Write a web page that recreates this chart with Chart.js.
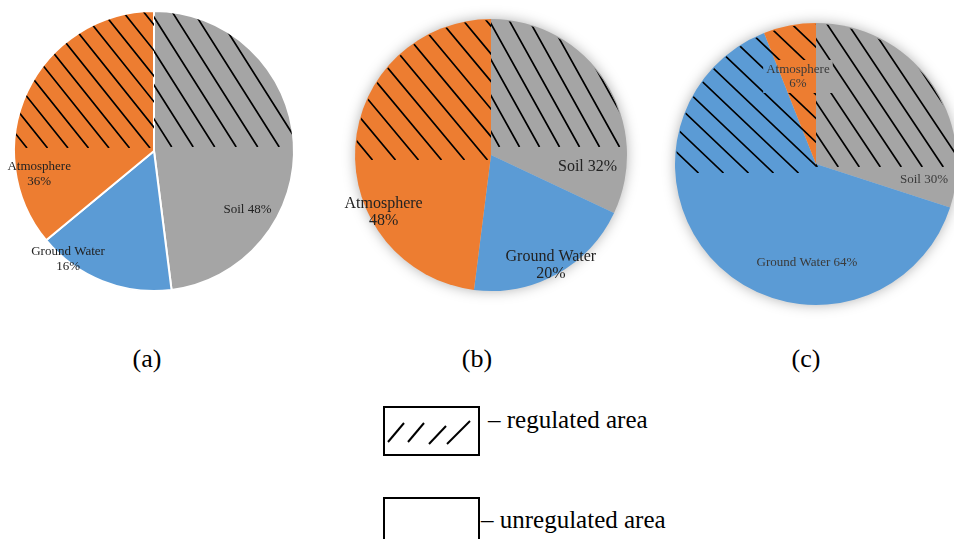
<!DOCTYPE html>
<html>
<head>
<meta charset="utf-8">
<script src="https://cdn.jsdelivr.net/npm/chart.js@4.4.0/dist/chart.umd.min.js"></script>
<style>
    html, body { margin:0; padding:0; background:#fff; }
    body { width:954px; height:539px; position:relative; overflow:hidden; font-family:"Liberation Serif","DejaVu Serif",serif; color:#000; }
    canvas { position:absolute; }
    .caption { position:absolute; font-size:26px; transform:translate(-50%,-50%); white-space:nowrap; }
    .legend-box { position:absolute; border:2px solid #000; box-sizing:border-box; }
    .legend-text { position:absolute; font-size:25px; transform:translateY(-50%); white-space:nowrap; }
</style>
</head>
<body>
<canvas id="pieA" width="312" height="312" style="left:-2px;top:-5px"></canvas>
<canvas id="pieB" width="302" height="302" style="left:340px;top:4px"></canvas>
<canvas id="pieC" width="312" height="312" style="left:660px;top:8px"></canvas>

<div class="caption" id="cap0" style="left:147px;top:359px"></div>
<div class="caption" id="cap1" style="left:477px;top:359px"></div>
<div class="caption" id="cap2" style="left:806px;top:359px"></div>

<div class="legend-box" style="left:383px;top:406px;width:97px;height:50px">
    <svg width="93" height="46" style="position:absolute;left:0;top:0">
        <g stroke="#000" stroke-width="2">
            <line x1="3" y1="34" x2="19" y2="15"/>
            <line x1="23" y1="34" x2="39" y2="15"/>
            <line x1="44" y1="36" x2="61" y2="18"/>
            <line x1="62" y1="36" x2="85" y2="13"/>
        </g>
    </svg>
</div>
<div class="legend-text" id="leg0" style="left:488px;top:420px"></div>
<div class="legend-box" style="left:383px;top:497px;width:97px;height:60px"></div>
<div class="legend-text" id="leg1" style="left:481px;top:520px"></div>

<script>
// Data
const categories = ['Soil', 'Ground Water', 'Atmosphere'];
const valuesA = [48, 16, 36];
const valuesB = [32, 20, 48];
const valuesC = [30, 64, 6];
const captions = ['(a)', '(b)', '(c)'];
const legendLabels = ['– regulated area', '– unregulated area'];

const sliceColors = ['#A5A5A5', '#5B9BD5', '#ED7D31'];

// Label placement (fraction of radius from centre) and hatch look, per pie
const pieStyles = {
    pieA: {
        borderWidth: 2, shadow: false, font: 13, lineHeight: 15, color: '#222',
        labels: [ {fx:0.668, fy:0.42, split:false}, {fx:-0.614, fy:0.77, split:true}, {fx:-0.82, fy:0.168, split:true} ],
        hatchLeft:  {slope:1.25, spacing:20.5, phase:-4,  bottom:-3},
        hatchRight: {slope:1.58, spacing:21.5, phase:-3.8, bottom:-4}
    },
    pieB: {
        borderWidth: 0, shadow: true, font: 16, lineHeight: 16.5, color: '#222',
        labels: [ {fx:0.71, fy:0.09, split:false}, {fx:0.44, fy:0.81, split:true}, {fx:-0.79, fy:0.42, split:true} ],
        hatchLeft:  {slope:1.2, spacing:23, phase:-3.5, bottom:5},
        hatchRight: {slope:1.8, spacing:20, phase:8.5, bottom:-8}
    },
    pieC: {
        borderWidth: 0, shadow: true, font: 13, lineHeight: 13.5, color: '#3a3a3a',
        labels: [ {fx:0.766, fy:0.113, split:false}, {fx:-0.064, fy:0.70, split:false}, {fx:-0.128, fy:-0.62, split:true, clear:true} ],
        hatchLeft:  {slope:0.95, spacing:25, phase:7.5, bottom:9},
        hatchRight: {slope:1.5, spacing:21, phase:1.3, bottom:3}
    }
};

// Diagonal hatch on one half of the upper pie, with holes left for labels
function drawHatch(ctx, cx, cy, r, side, h, holes) {
    const yb = cy + h.bottom;
    const top = cy - r;
    ctx.save();
    ctx.beginPath();
    ctx.arc(cx, cy, r - 1, 0, Math.PI * 2);
    ctx.clip();
    ctx.beginPath();
    if (side < 0) ctx.rect(cx - r, top, r, yb - top);
    else ctx.rect(cx, top, r, yb - top);
    ctx.clip();
    if (holes.length) {
        ctx.beginPath();
        ctx.rect(cx - r - 5, cy - r - 5, 2 * r + 10, 2 * r + 10);
        holes.forEach(b => ctx.rect(b.x, b.y, b.w, b.h));
        ctx.clip('evenodd');
    }
    ctx.strokeStyle = '#000';
    ctx.lineWidth = 1.7;
    ctx.beginPath();
    for (let k = -25; k <= 25; k++) {
        const xb = cx + h.phase + k * h.spacing;
        ctx.moveTo(xb, yb);
        ctx.lineTo(xb - (yb - top + 10) / h.slope, top - 10);
    }
    ctx.stroke();
    ctx.restore();
}

const shadowPlugin = {
    id: 'pieShadow',
    beforeDatasetsDraw(chart) {
        const st = pieStyles[chart.canvas.id];
        if (!st.shadow) return;
        const arc = chart.getDatasetMeta(0).data[0];
        const ctx = chart.ctx;
        ctx.save();
        ctx.shadowColor = 'rgba(0,0,0,0.35)';
        ctx.shadowBlur = 14;
        ctx.fillStyle = '#ccc';
        ctx.beginPath();
        ctx.arc(arc.x, arc.y, arc.outerRadius - 1, 0, Math.PI * 2);
        ctx.fill();
        ctx.restore();
    }
};

const hatchLabelPlugin = {
    id: 'hatchLabels',
    afterDatasetsDraw(chart) {
        const st = pieStyles[chart.canvas.id];
        const meta = chart.getDatasetMeta(0);
        const arc = meta.data[0];
        const cx = arc.x, cy = arc.y, r = arc.outerRadius;
        const ctx = chart.ctx;
        const values = chart.data.datasets[0].data;
        ctx.save();
        ctx.font = st.font + 'px "Liberation Serif", serif';

        // where labels sit, and the boxes the hatch must leave free
        const placed = chart.data.labels.map((name, i) => {
            const pos = st.labels[i];
            const pct = values[i] + '%';
            const lines = pos.split ? [name, pct] : [name + ' ' + pct];
            return { x: cx + pos.fx * r, y: cy + pos.fy * r, lines: lines, clear: pos.clear };
        });
        const holes = placed.filter(p => p.clear).map(p => {
            const w = Math.max(...p.lines.map(t => ctx.measureText(t).width)) + 6;
            const hgt = p.lines.length * st.lineHeight + 6;
            return { x: p.x - w / 2, y: p.y - hgt / 2, w: w, h: hgt };
        });

        drawHatch(ctx, cx, cy, r, -1, st.hatchLeft, holes);
        drawHatch(ctx, cx, cy, r, 1, st.hatchRight, holes);

        // Labels
        ctx.fillStyle = st.color;
        ctx.textAlign = 'center';
        ctx.textBaseline = 'middle';
        placed.forEach(p => {
            const y0 = p.y - (p.lines.length - 1) * st.lineHeight / 2;
            p.lines.forEach((t, j) => ctx.fillText(t, p.x, y0 + j * st.lineHeight));
        });
        ctx.restore();
    }
};

function makePie(id, values) {
    const st = pieStyles[id];
    new Chart(document.getElementById(id), {
        type: 'pie',
        data: {
            labels: categories,
            datasets: [{
                data: values,
                backgroundColor: sliceColors,
                borderColor: '#fff',
                borderWidth: st.borderWidth
            }]
        },
        options: {
            responsive: false,
            animation: false,
            layout: { padding: 15 },
            plugins: { legend: { display: false }, tooltip: { enabled: false } }
        },
        plugins: [shadowPlugin, hatchLabelPlugin]
    });
}

makePie('pieA', valuesA);
makePie('pieB', valuesB);
makePie('pieC', valuesC);

captions.forEach((c, i) => { document.getElementById('cap' + i).textContent = c; });
legendLabels.forEach((t, i) => { document.getElementById('leg' + i).textContent = t; });
</script>
</body>
</html>
